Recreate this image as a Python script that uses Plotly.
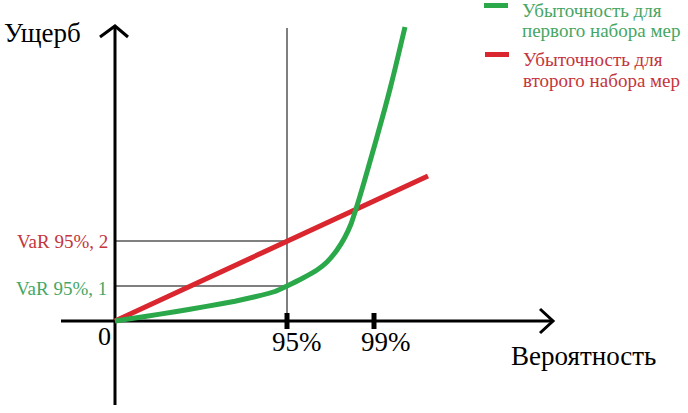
import plotly.graph_objects as go

# Data (arbitrary units: x = probability scale, y = loss)
green_x = [0, 30, 60, 90, 120, 140, 160, 172, 188, 202, 212, 222, 230, 236, 241, 245, 250, 255, 260, 265, 270, 275, 280, 285, 290]
green_y = [0, 4.5, 9.3, 14.4, 19.8, 24.2, 29.5, 35, 43, 51, 59, 71, 84, 97, 112, 125, 142, 159.5, 177, 195, 213, 232, 252, 273, 294]
red_x = [0, 313]
red_y = [0, 145]
x95 = 172
x99 = 259
var1 = 35
var2 = 80
tick_labels = ["95%", "99%"]
legend_names = ["Убыточность для<br>первого набора мер", "Убыточность для<br>второго набора мер"]

GREEN = "#2aa84a"
RED = "#d9262f"
GREEN_T = "#46a664"
RED_T = "#c4353c"
FONT = "Liberation Serif, Times New Roman, DejaVu Serif, serif"

fig = go.Figure()

# axes
fig.add_trace(go.Scatter(x=[-54, 438], y=[0, 0], mode="lines", line=dict(color="black", width=3), hoverinfo="skip"))
fig.add_trace(go.Scatter(x=[0, 0], y=[-84, 295], mode="lines", line=dict(color="black", width=3), hoverinfo="skip"))
# arrow heads
fig.add_trace(go.Scatter(x=[425, 438, 425], y=[12, 0, -12], mode="lines", line=dict(color="black", width=3), hoverinfo="skip"))
fig.add_trace(go.Scatter(x=[-15, 0, 13], y=[284, 295, 284], mode="lines", line=dict(color="black", width=3), hoverinfo="skip"))
# tick marks
for xt in [x95, x99]:
    fig.add_trace(go.Scatter(x=[xt, xt], y=[-8, 8], mode="lines", line=dict(color="black", width=5), hoverinfo="skip"))
# guide lines
fig.add_trace(go.Scatter(x=[x95, x95], y=[0, 293], mode="lines", line=dict(color="black", width=1), hoverinfo="skip"))
fig.add_trace(go.Scatter(x=[0, x95], y=[var2, var2], mode="lines", line=dict(color="black", width=1), hoverinfo="skip"))
fig.add_trace(go.Scatter(x=[0, x95], y=[var1, var1], mode="lines", line=dict(color="black", width=1), hoverinfo="skip"))

# curves
fig.add_trace(go.Scatter(x=red_x, y=red_y, mode="lines", line=dict(color=RED, width=5)))
fig.add_trace(go.Scatter(x=green_x, y=green_y, mode="lines",
                         line=dict(color=GREEN, width=5, shape="spline", smoothing=0.4)))

# legend swatches
fig.add_shape(type="rect", x0=369, x1=393, y0=313, y1=318, fillcolor=GREEN, line_width=0)
fig.add_shape(type="rect", x0=370, x1=394, y0=264, y1=269, fillcolor=RED, line_width=0)

ann = []
def txt(x, y, t, size, color, xa="center", ya="middle"):
    ann.append(dict(x=x, y=y, xref="x", yref="y", text=t, showarrow=False,
                    font=dict(family=FONT, size=size, color=color), xanchor=xa, yanchor=ya))

txt(-113, 288, "Ущерб", 27, "black", xa="left")
txt(394, -35, "Вероятность", 27, "black", xa="left")
txt(-11, -15, "0", 26, "black")
txt(x95 + 10, -21, tick_labels[0], 27, "black")
txt(x99 + 12, -21, tick_labels[1], 27, "black")
txt(-5, var2, "VaR 95%, 2", 19, RED_T, xa="right")
txt(-6, var1 - 2, "VaR 95%, 1", 19, GREEN_T, xa="right")
l1 = legend_names[0].split("<br>")
l2 = legend_names[1].split("<br>")
txt(405, 311, l1[0], 19, GREEN_T, xa="left")
txt(405, 291, l1[1], 19, GREEN_T, xa="left")
txt(406, 262, l2[0], 19, RED_T, xa="left")
txt(406, 241, l2[1], 19, RED_T, xa="left")

fig.update_layout(
    width=688, height=413,
    margin=dict(l=0, r=0, t=0, b=0),
    paper_bgcolor="white", plot_bgcolor="white",
    showlegend=False,
    annotations=ann,
    xaxis=dict(range=[-115, 573], visible=False, fixedrange=True),
    yaxis=dict(range=[-92, 321], visible=False, fixedrange=True),
)

fig.write_html("out.html", config={"displayModeBar": False},
               post_script="document.body.style.margin='0px';")
